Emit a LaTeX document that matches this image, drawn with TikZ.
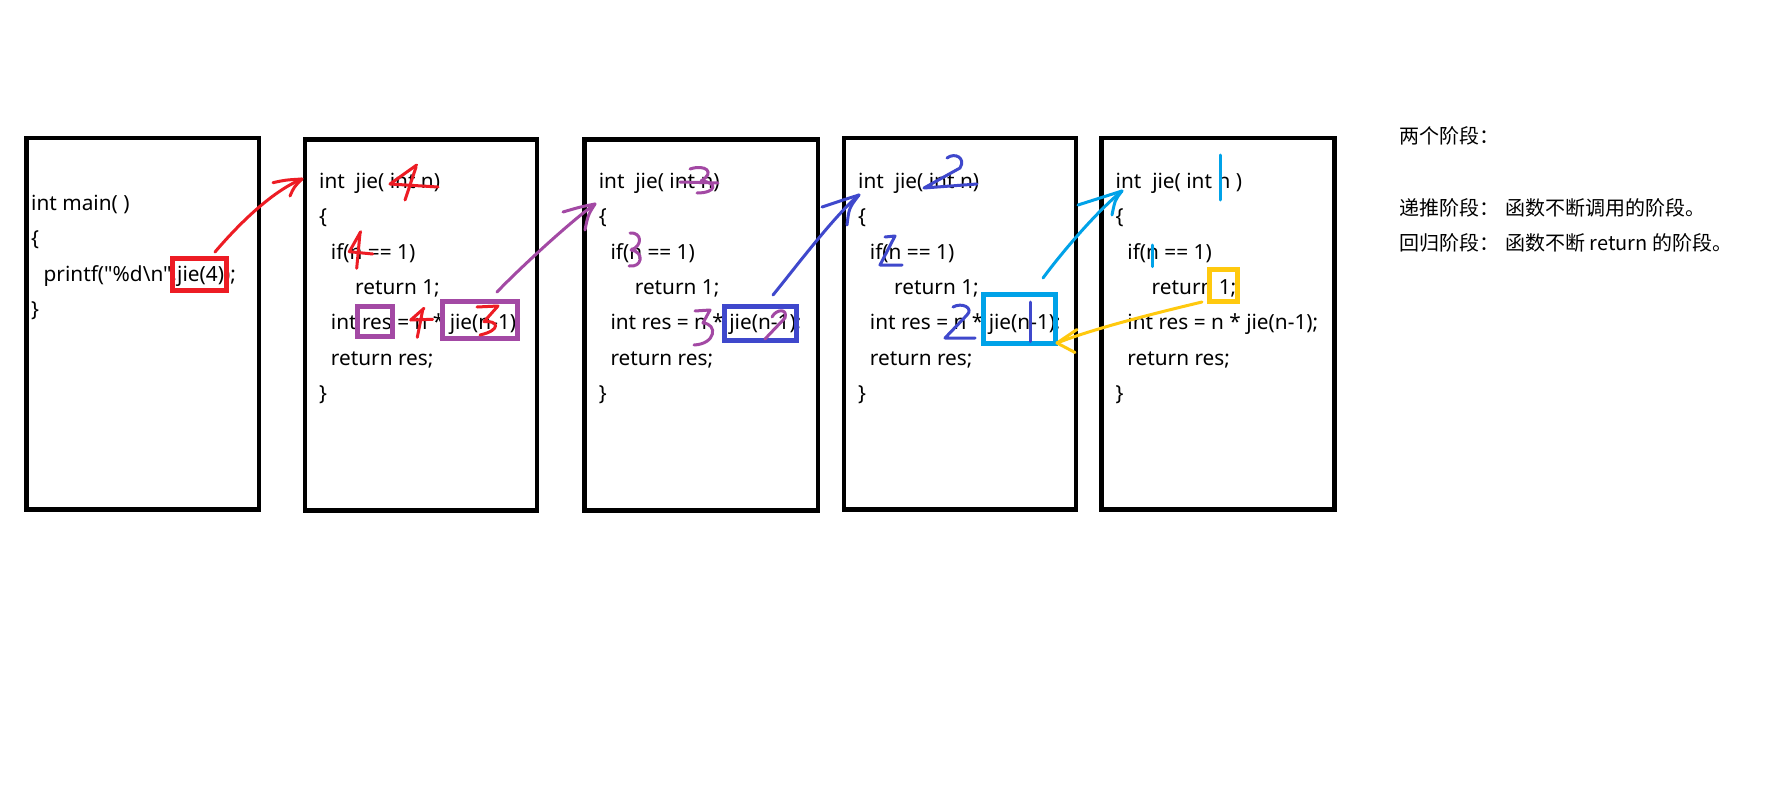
\documentclass[tikz,border=0pt]{standalone}
\usepackage{fontspec}
\setmainfont{Noto Sans}[Ligatures=TeXOff]
\newfontfamily\cjk{Noto Sans CJK SC}
\definecolor{pred}{HTML}{ED1C24}
\definecolor{ppur}{HTML}{A349A4}
\definecolor{pind}{HTML}{3F48CC}
\definecolor{pcyan}{HTML}{00A2E8}
\definecolor{pgold}{HTML}{FFC90E}
\tikzset{
  frame/.style={draw=black, line width=4.5pt},
  code/.style={anchor=base west, inner sep=0pt, font=\fontsize{20.8}{24}\selectfont},
  note/.style={anchor=base west, inner sep=0pt, font=\cjk\fontsize{20}{24}\selectfont},
  ink/.style={line width=3pt, line cap=round, line join=round},
  hl/.style={line width=5pt},
}
\begin{document}
\begin{tikzpicture}[x=1pt,y=-1pt]
\useasboundingbox (0,0) rectangle (1792,800);
\fill[white] (0,0) rectangle (1792,800);

% frames
\draw[frame] (26.5,138) rectangle (259,509.5);
\draw[frame] (305,139.5) rectangle (537,510.5);
\draw[frame] (584.6,139.5) rectangle (817.8,510.5);
\draw[frame] (844,138) rectangle (1076,509.5);
\draw[frame] (1101.5,138) rectangle (1334.5,509.5);

% box 1 text
\node[code] (m1) at (31,210.5) {int main( )};
\node[code] (m2) at (31,245.8) {\{};
\node[code] (m3) at (43.5,281.1) {printf("\%d\textbackslash n",jie(4));};
\node[code] (m4) at (31,316.4) {\}};

% box 2..5 text
\foreach \L/\k/\last in {305/b/{n)}, 584.6/c/{n)}, 844/d/{n)}, 1101.5/e/{n )}} {
  \node[code] (\k1) at (\L+14,188.5) {int\ \ jie( int \last};
  \node[code] (\k2) at (\L+14,223.8) {\{};
  \node[code] (\k3) at (\L+25.7,259.1) {if(n == 1)};
  \node[code] (\k4) at (\L+50,294.4) {return 1;};
  \node[code] (\k5) at (\L+25.7,329.7) {int res = n * jie(n-1);};
  \node[code] (\k6) at (\L+25.7,365.0) {return res;};
  \node[code] (\k7) at (\L+14,400.3) {\}};
}

% right notes
\node[note] (n1) at (1399,143.3) {两个阶段：};
\node[note] (n2) at (1399,215) {递推阶段：};
\node[note] (n3) at (1505,215) {函数不断调用的阶段。};
\node[note] (n4) at (1399,250) {回归阶段：};
\node[note] (n5) at (1505,250) {函数不断 return 的阶段。};

% highlight boxes
\draw[hl,pred] (172,258.5) rectangle (226,290.5);
\draw[hl,ppur] (357,306) rectangle (392,336.5);
\draw[hl,ppur] (442,301) rectangle (517,338);
\draw[hl,pind] (724,306.5) rectangle (796,340);
\draw[hl,pcyan] (983,294.5) rectangle (1055,343);
\draw[hl,pgold] (1209,269.5) rectangle (1237,301);

% arrow end points
\coordinate (rs) at (215,252);   \coordinate (re) at (302,179);
\coordinate (ps) at (497,292);   \coordinate (pe) at (595,204);
\coordinate (bs) at (773,295);   \coordinate (be) at (859,195);
\coordinate (cs) at (1043,278);  \coordinate (ce) at (1122,191);
\coordinate (ys) at (1202,302);  \coordinate (ye) at (1057,343);

% red arrow
\draw[ink,pred] (rs) .. controls (232,232) and (268,193) .. (re);
\draw[ink,pred] (273,182.7) .. controls (285,180) .. (re);
\draw[ink,pred] (290,196) .. controls (294,187) .. (re);
% purple arrow
\draw[ink,ppur] (ps) .. controls (520,268) and (570,222) .. (pe);
\draw[ink,ppur] (563,212) .. controls (580,207) .. (pe);
\draw[ink,ppur] (585,230) .. controls (588,215) .. (pe);
% blue arrow
\draw[ink,pind] (bs) .. controls (795,268) and (835,215) .. (be);
\draw[ink,pind] (822,207) .. controls (843,200) .. (be);
\draw[ink,pind] (847,225) .. controls (849,208) .. (be);
% cyan arrow
\draw[ink,pcyan] (cs) .. controls (1060,255) and (1095,213) .. (ce);
\draw[ink,pcyan] (1078,205) .. controls (1100,198) .. (ce);
\draw[ink,pcyan] (1112,215) .. controls (1115,200) .. (ce);
% gold arrow
\draw[ink,pgold] (ys) .. controls (1160,312) and (1095,328) .. (ye);
\draw[ink,pgold] (1077,329.5) -- (ye);
\draw[ink,pgold] (1075,352.5) -- (ye);

% red digits (box 2)
\draw[ink,pred] (416.7,165) -- (390,184) -- (438,187);
\draw[ink,pred] (416,167) -- (405,200);
\draw[ink,pred] (360.7,231.7) -- (349.3,251.7) -- (372.7,254);
\draw[ink,pred] (360,233) -- (356.7,268.3);
\draw[ink,pred] (424,308.3) -- (410.7,320) -- (432.7,319.3);
\draw[ink,pred] (422.7,310) -- (417.3,337.3);
\draw[ink,pred] (477,307) -- (498,306) -- (484,321.7) .. controls (498,320) and (502,330) .. (480,335);

% purple digits (box 3)
\draw[ink,ppur] (690,169) .. controls (705,164) and (716,172) .. (701,181) .. controls (718,182) and (717,193) .. (697,193);
\draw[ink,ppur] (680,182) -- (718,183);
\draw[ink,ppur] (630,233) .. controls (642,232) and (643,246) .. (631,250) .. controls (645,252) and (642,268) .. (629,266);
\draw[ink,ppur] (695,311) -- (710,310) -- (703,323) .. controls (718,324) and (716,344) .. (694,345);
\draw[ink,ppur] (772,317) .. controls (776,309) and (788,308) .. (785,318) -- (765,339);

% blue digits (box 4)
\draw[ink,pind] (947,158) .. controls (955,152) and (966,158) .. (960,168) -- (924,188) -- (977,184);
\draw[ink,pind] (885,237) -- (895,236) -- (880,265) -- (902,265);
\draw[ink,pind] (953,307) .. controls (962,302) and (974,308) .. (967,315) -- (945,338) -- (975,338);
\draw[ink,pind] (1030,302) -- (1030,341.5);

% cyan marks (box 5)
\draw[ink,pcyan] (1220,155) -- (1220,200);
\draw[ink,pcyan] (1152.7,245) -- (1152.7,266.7);
\end{tikzpicture}
\end{document}
